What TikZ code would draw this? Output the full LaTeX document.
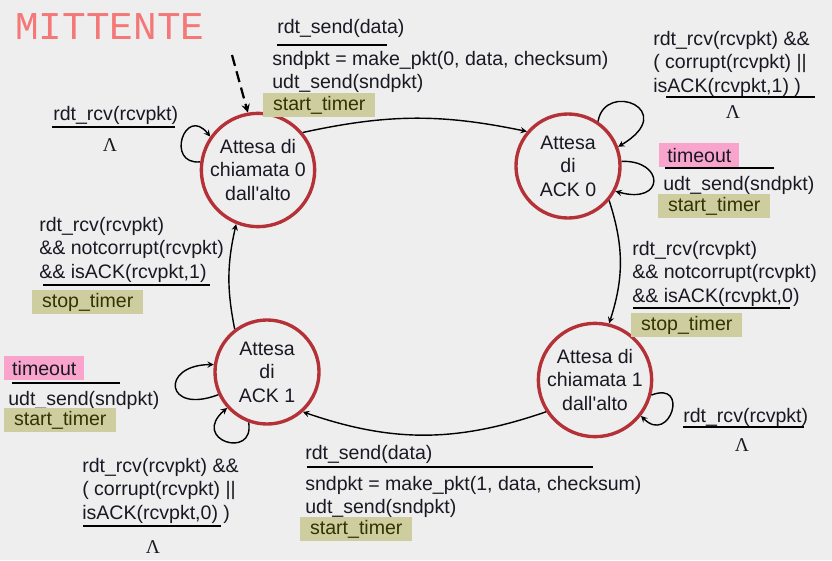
\documentclass[tikz,border=0pt]{standalone}
\usepackage{fontspec}
\setmainfont{Liberation Sans}
\newfontfamily\titlefont{Liberation Mono}
\newfontfamily\lamfont{Liberation Serif}
\usepackage{tikz}
\usetikzlibrary{positioning,calc}

\definecolor{bgcol}{RGB}{238,238,238}
\definecolor{statecol}{RGB}{180,50,55}
\definecolor{txtcol}{RGB}{25,25,35}
\definecolor{timercol}{RGB}{205,205,160}
\definecolor{timertxt}{RGB}{51,51,0}
\definecolor{timeoutcol}{RGB}{248,164,204}
\definecolor{titlecol}{RGB}{245,120,120}
\newcommand\apos{\XeTeXglyph\XeTeXcharglyph"0027\relax}

\begin{document}
\begin{tikzpicture}[x=0.025cm, y=-0.025cm,
  every node/.style={font=\fontsize{13.9}{16.7}\selectfont, text=txtcol},
  state/.style={draw=statecol, line width=2.4pt, circle, fill=bgcol, minimum size=2.6cm, inner sep=0pt, align=center},
  lbl/.style={anchor=north west, inner sep=0pt, align=left},
  timerbox/.style={anchor=north west, fill=timercol, text=timertxt, inner xsep=7pt, inner ysep=2pt, minimum height=17pt},
  timeoutbox/.style={anchor=north west, fill=timeoutcol, inner xsep=4.5pt, inner ysep=2pt, minimum height=17pt, minimum width=2cm},
  rule/.style={line width=1.8pt},
  tr/.style={->, >=stealth, line width=1pt}]

  \fill[bgcol] (0,0) rectangle (832,560);
  \useasboundingbox (0,0) rectangle (832,560);

  % Title
  \node[anchor=west, inner sep=0pt, font=\titlefont\fontsize{28}{30}\selectfont, text=titlecol] (title) at (15,27) {MITTENTE};

  % States
  \node[state] (s0) at (258,170) {Attesa di\\chiamata 0\\dall\apos alto};
  \node[state] (s1) at (568,166) {Attesa\\di\\ACK 0};
  \node[state] (s2) at (267,372) {Attesa\\di\\ACK 1};
  \node[state] (s3) at (595,380) {Attesa di\\chiamata 1\\dall\apos alto};
  \coordinate (init) at (232,55);

  % Labels
  \node[lbl] (send0) at (277,19) {rdt\_send(data)};
  \draw[rule] (277,45) -- (387,45);
  \node[lbl] (act0) at (272,51) {sndpkt = make\_pkt(0, data, checksum)\\udt\_send(sndpkt)};
  \node[timerbox] (tim0) at (263,93) {start\_timer};

  \node[lbl] (ev1) at (53,106) {rdt\_rcv(rcvpkt)};
  \draw[rule] (52,127) -- (175,127);
  \node (lam1) at (110,145) {\lamfont Λ};

  \node[lbl] (ev2) at (653,31) {rdt\_rcv(rcvpkt) \&\&\\( corrupt(rcvpkt) ||\\isACK(rcvpkt,1) )};
  \draw[rule] (666,97) -- (815,97);
  \node (lam2) at (733,112) {\lamfont Λ};

  \node[timeoutbox] (to1) at (659,143) {timeout};
  \draw[rule] (665,168) -- (774,168);
  \node[lbl] (act3) at (663,176) {udt\_send(sndpkt)};
  \node[timerbox] (tim3) at (658,194) {start\_timer};

  \node[lbl] (ev4) at (39,217) {rdt\_rcv(rcvpkt)\\\&\& notcorrupt(rcvpkt)\\\&\& isACK(rcvpkt,1)};
  \draw[rule] (43,285) -- (210,285);
  \node[timerbox] (stop1) at (32,290) {stop\_timer};

  \node[lbl] (ev5) at (632,241) {rdt\_rcv(rcvpkt)\\\&\& notcorrupt(rcvpkt)\\\&\& isACK(rcvpkt,0)};
  \draw[rule] (633,308) -- (790,308);
  \node[timerbox] (stop2) at (631,313) {stop\_timer};

  \node[timeoutbox] (to2) at (4,356) {timeout};
  \draw[rule] (12,383) -- (120,383);
  \node[lbl] (act6) at (8,391) {udt\_send(sndpkt)};
  \node[timerbox] (tim6) at (4,408) {start\_timer};

  \node[lbl] (ev7) at (82,458) {rdt\_rcv(rcvpkt) \&\&\\( corrupt(rcvpkt) ||\\isACK(rcvpkt,0) )};
  \draw[rule] (83,526) -- (221,526);
  \node (lam7) at (153,547) {\lamfont Λ};

  \node[lbl] (send1) at (305,445) {rdt\_send(data)};
  \draw[rule] (307,467) -- (593,467);
  \node[lbl] (act8) at (305,476) {sndpkt = make\_pkt(1, data, checksum)\\udt\_send(sndpkt)};
  \node[timerbox] (tim8) at (300,517) {start\_timer};

  \node[lbl] (ev9) at (683,408) {rdt\_rcv(rcvpkt)};
  \draw[rule] (683,427) -- (804,427);
  \node (lam9) at (742,445) {\lamfont Λ};

  % Arrows
  \draw[tr, line width=1.6pt, dash pattern=on 8pt off 4pt] (init) -- (s0.100);
  \draw[tr] (s0.40) to[bend left=12] (s1.140);
  \draw[tr] (s1.-40) to[bend left=18] (s3.76);
  \draw[tr] (s3.213) to[bend left=19] (s2.-48);
  \draw[tr] (s2.127) to[bend left=12] (s0.248);

  % Self loops
  \draw[tr] (s0.172) .. controls (165,165) and (185,105) .. (s0.145);
  \draw[tr] (s1.56) .. controls (605,80) and (680,110) .. (s1.21);
  \draw[tr] (s1.5) .. controls (665,160) and (665,205) .. (s1.-28);
  \draw[tr] (s2.205) .. controls (165,415) and (160,365) .. (s2.172);
  \draw[tr] (s2.250) .. controls (255,460) and (190,440) .. (s2.222);
  \draw[tr] (s3.-15) .. controls (690,380) and (670,445) .. (s3.-38);
\end{tikzpicture}
\end{document}
